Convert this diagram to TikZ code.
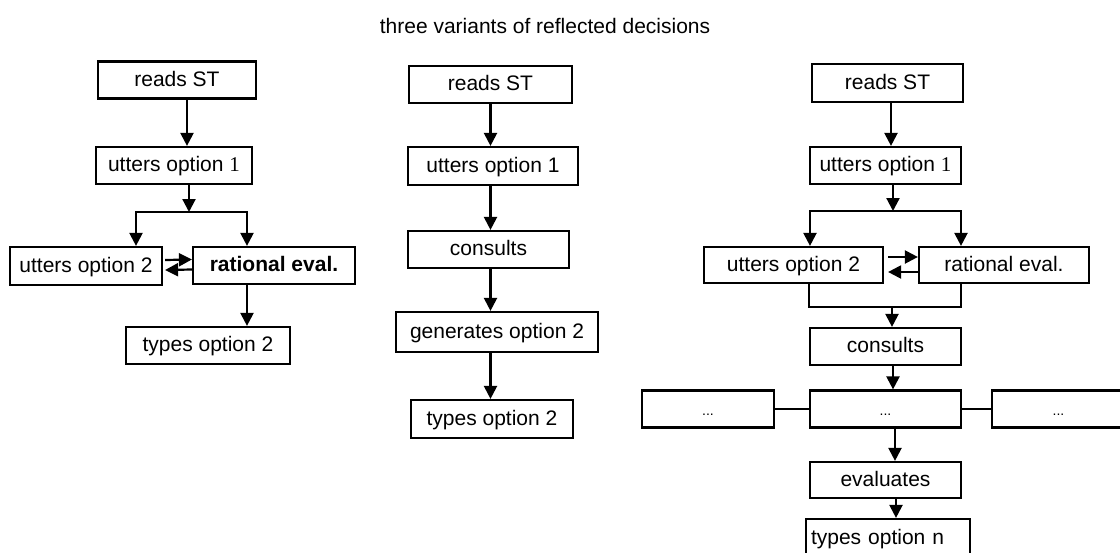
\documentclass[tikz,border=0pt]{standalone}
\usepackage{fontspec}
\setmainfont{Liberation Sans}
\newfontfamily\timesfont{Liberation Serif}
\usetikzlibrary{arrows.meta}

\begin{document}
\begin{tikzpicture}[x=1pt, y=-1pt,
    every node/.style={font=\fontsize{21}{25}\selectfont},
    box/.style={draw, line width=2.2pt, minimum height=37pt, inner sep=0pt, text height=15pt, text depth=3pt},
    dots/.style={font=\fontsize{14}{16}\selectfont},
    arr/.style={line width=2.2pt, -{Triangle[length=13pt, width=13pt]}},
    arrs/.style={line width=2.2pt, {Triangle[length=13pt, width=13pt]}-{Triangle[length=13pt, width=13pt]}},
    line/.style={line width=2.2pt}]
    \useasboundingbox (0,0) rectangle (1120,552);
    \clip (0,0) rectangle (1120,552);

    \node (title) at (545,26) {three variants of reflected decisions};

    % left variant
    \node (lreads) at (177,80) [box, minimum width=158pt] {reads ST};
    \node (lutter1) at (174,165.5) [box, minimum width=156pt] {utters option {\timesfont 1}};
    \node (lutter2) at (86,266) [box, minimum width=152pt, minimum height=38pt] {utters option 2};
    \node (lrational) at (274,265.5) [box, minimum width=162pt] {\bfseries rational eval.};
    \node (ltypes) at (208,345.5) [box, minimum width=164pt] {types option 2};
    \coordinate (lsplit) at (189,212);
    \coordinate (lbl) at (136,212);
    \coordinate (lbr) at (247,212);

    \draw[arr] ([xshift=10pt]lreads.south) -- ([xshift=13pt]lutter1.north);
    \draw[arr] (lsplit |- lutter1.south) -- (lsplit);
    \draw[arrs] (lbl |- lutter2.north) -- (lbl) -- (lbr) -- (lbr |- lrational.north);
    \draw[arr] ([yshift=6pt,xshift=2pt]lutter2.east) -- ([yshift=6pt]lrational.west);
    \draw[arr] ([yshift=-4pt]lrational.west) -- ([yshift=-4pt,xshift=2pt]lutter2.east);
    \draw[arr] (lbr |- lrational.south) -- (lbr |- ltypes.north);

    % middle variant
    \node (mreads) at (490.5,84.5) [box, minimum width=163pt] {reads ST};
    \node (mutter1) at (493,166) [box, minimum width=170pt, minimum height=38pt] {utters option 1};
    \node (mconsults) at (488.5,249.5) [box, minimum width=161pt] {consults};
    \node (mgen) at (497,332) [box, minimum width=202pt, minimum height=40pt] {generates option 2};
    \node (mtypes) at (492,419) [box, minimum width=162pt, minimum height=38pt] {types option 2};

    \draw[arr] (mreads.south) -- (mreads.south |- mutter1.north);
    \draw[arr] (mutter1.south -| mreads.south) -- (mreads.south |- mconsults.north);
    \draw[arr] (mconsults.south -| mreads.south) -- (mreads.south |- mgen.north);
    \draw[arr] (mgen.south -| mreads.south) -- (mreads.south |- mtypes.north);

    % right variant
    \node (rreads) at (887.5,83) [box, minimum width=151pt, minimum height=38pt] {reads ST};
    \node (rutter1) at (885.5,165.5) [box, minimum width=151pt] {utters option {\timesfont 1}};
    \node (rutter2) at (793.5,265) [box, minimum width=179pt, minimum height=36pt] {utters option 2};
    \node (rrational) at (1004,265) [box, minimum width=170pt, minimum height=36pt] {rational eval.};
    \node (rconsults) at (885.5,346.5) [box, minimum width=151pt] {consults};
    \node (rdotsl) at (708,409) [box, dots, minimum width=132pt] {...};
    \node (rdots) at (885.5,409) [box, dots, minimum width=151pt] {...};
    \node (rdotsr) at (1058.5,409) [box, dots, minimum width=133pt] {...};
    \node (reval) at (885.5,480) [box, minimum width=151pt, minimum height=36pt] {evaluates};
    \node (rtypes) at (888,538.5) [box, text width=154pt, inner xsep=5pt, align=left, minimum height=39pt] {types option n};
    \coordinate (rsplit) at (893,211);
    \coordinate (rbl) at (810,211);
    \coordinate (rbr) at (961,211);
    \coordinate (rml) at (809,307);
    \coordinate (rmr) at (961,307);
    \coordinate (rjoin) at (892,307);

    \draw[arr] ([xshift=3.5pt]rreads.south) -- ([xshift=5.5pt]rutter1.north);
    \draw[arr] (rsplit |- rutter1.south) -- (rsplit);
    \draw[arrs] (rbl |- rutter2.north) -- (rbl) -- (rbr) -- (rbr |- rrational.north);
    \draw[arr] ([yshift=8pt,xshift=4pt]rutter2.east) -- ([yshift=8pt]rrational.west);
    \draw[arr] ([yshift=-7pt]rrational.west) -- ([yshift=-7pt,xshift=4pt]rutter2.east);
    \draw[line] (rml |- rutter2.south) -- (rml) -- (rmr) -- (rmr |- rrational.south);
    \draw[arr] (rjoin) -- (rjoin |- rconsults.north);
    \draw[arr] ([xshift=7.5pt]rconsults.south) -- ([xshift=7.5pt]rdots.north);
    \draw[line] (rdotsl.east) -- (rdots.west);
    \draw[line] (rdots.east) -- (rdotsr.west);
    \draw[arr] ([xshift=9.5pt]rdots.south) -- ([xshift=9.5pt]reval.north);
    \draw[arr] ([xshift=10.5pt]reval.south) -- ([xshift=8pt]rtypes.north);
\end{tikzpicture}
\end{document}
